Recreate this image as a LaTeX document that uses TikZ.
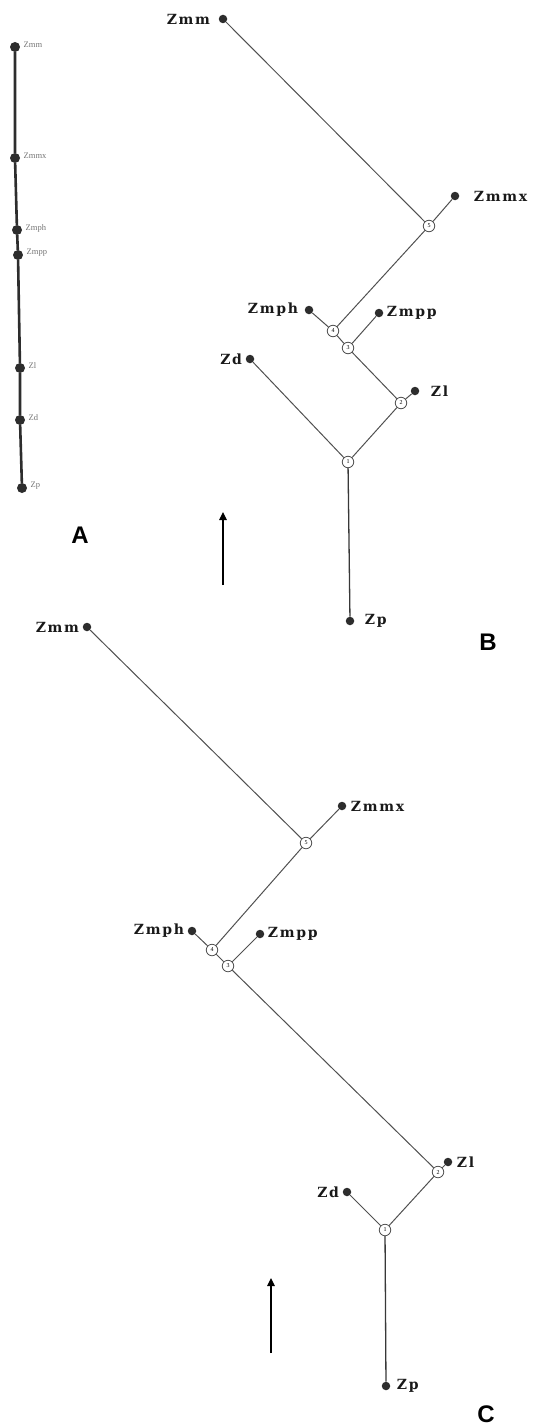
\documentclass[tikz,border=0pt]{standalone}
\usepackage{fontspec}
\usepackage{tikz}
\usetikzlibrary{arrows.meta}
\newfontfamily\taxonfont[LetterSpace=12]{DejaVu Serif}
\newfontfamily\plainfont{Liberation Serif}
\newfontfamily\panelfont{Liberation Sans}
\definecolor{lnkgray}{RGB}{80,80,80}
\definecolor{dotgray}{RGB}{45,45,45}

\begin{document}
\begin{tikzpicture}[x=1pt, y=-1pt,
  leaf/.style={circle, fill=dotgray, inner sep=0pt, minimum size=8.5pt},
  bigleaf/.style={leaf, minimum size=10pt},
  junc/.style={circle, draw=lnkgray, line width=0.8pt, fill=white, inner sep=0pt,
    minimum size=11.5pt, font=\fontsize{6}{6}\selectfont\plainfont},
  tag/.style={font=\fontsize{14}{16}\selectfont\taxonfont\bfseries, text=black!90},
  small/.style={font=\fontsize{8.5}{9}\selectfont\plainfont, text=black!55, yshift=2pt},
  link/.style={draw=lnkgray, line width=1pt},
  stem/.style={draw=lnkgray!70!black, line width=1.3pt},
  uparrow/.style={draw=black, line width=1.1pt, -{Triangle[width=7.5pt,length=8pt]}},
  panel/.style={font=\fontsize{24}{26}\selectfont\panelfont\bfseries},
  every label/.style={tag}
]
  \useasboundingbox (0,0) rectangle (540,1426);

  % A: plain chain
  \node[bigleaf, label={[small]right:Zmm}]  (aZmm)  at (15,47) {};
  \node[bigleaf, label={[small]right:Zmmx}] (aZmmx) at (15,158) {};
  \node[bigleaf, label={[small]right:Zmph}] (aZmph) at (17,230) {};
  \node[bigleaf, label={[small]right:Zmpp}] (aZmpp) at (18,255) {};
  \node[bigleaf, label={[small]right:Zl}]   (aZl)   at (20,368) {};
  \node[bigleaf, label={[small]right:Zd}]   (aZd)   at (20,420) {};
  \node[bigleaf, label={[small]right:Zp}]   (aZp)   at (22,488) {};
  \draw[draw=dotgray, line width=2.6pt] (aZmm) -- (aZmmx) -- (aZmph) -- (aZmpp) -- (aZl) -- (aZd) -- (aZp);
  \node[panel] (labA) at (80,535) {A};

  % B
  \node[leaf, label={[label distance=5pt]left:Zmm}]   (bZmm)  at (223,19) {};
  \node[junc] (b5) at (429,226) {5};
  \node[leaf, label={[label distance=11pt]right:Zmmx}] (bZmmx) at (455,196) {};
  \node[junc] (b4) at (333,331) {4};
  \node[leaf, label={[label distance=3pt]left:Zmph}]  (bZmph) at (309,310) {};
  \node[junc] (b3) at (348,348) {3};
  \node[leaf, label=right:Zmpp] (bZmpp) at (379,313) {};
  \node[junc] (b2) at (401,403) {2};
  \node[leaf, label={[label distance=8pt]right:Zl}] (bZl) at (415,391) {};
  \node[leaf, label=left:Zd] (bZd) at (250,359) {};
  \node[junc] (b1) at (348,462) {1};
  \node[leaf, label={[label distance=7pt]right:Zp}] (bZp) at (350,621) {};
  \coordinate (bTail) at (223,585);
  \coordinate (bHead) at (223,512);
  \node[panel] (labB) at (488,642) {B};

  % C
  \node[leaf, label=left:Zmm]   (cZmm)  at (87,627) {};
  \node[junc] (c5) at (306,843) {5};
  \node[leaf, label={[label distance=1pt]right:Zmmx}] (cZmmx) at (342,806) {};
  \node[junc] (c4) at (212,950) {4};
  \node[leaf, label=left:Zmph]  (cZmph) at (192,931) {};
  \node[junc] (c3) at (228,966) {3};
  \node[leaf, label=right:Zmpp] (cZmpp) at (260,934) {};
  \node[junc] (c2) at (438,1172) {2};
  \node[leaf, label={[label distance=1pt]right:Zl}] (cZl) at (448,1162) {};
  \node[leaf, label=left:Zd] (cZd) at (347,1192) {};
  \node[junc] (c1) at (385,1230) {1};
  \node[leaf, label={[label distance=3pt]right:Zp}] (cZp) at (386,1386) {};
  \coordinate (cTail) at (271,1353);
  \coordinate (cHead) at (271,1278);
  \node[panel] (labC) at (486,1414) {C};

  % branches, same for B and C
  \foreach \p in {b,c} {
    \draw[link] (\p Zmm) -- (\p5);
    \draw[link] (\p5) -- (\p Zmmx);
    \draw[link] (\p5) -- (\p4);
    \draw[link] (\p Zmph) -- (\p4);
    \draw[link] (\p4) -- (\p3);
    \draw[link] (\p3) -- (\p Zmpp);
    \draw[link] (\p3) -- (\p2);
    \draw[link] (\p2) -- (\p Zl);
    \draw[link] (\p2) -- (\p1);
    \draw[link] (\p Zd) -- (\p1);
    \draw[stem] (\p1) -- (\p Zp);
    \draw[uparrow] (\p Tail) -- (\p Head);
  }
\end{tikzpicture}
\end{document}
